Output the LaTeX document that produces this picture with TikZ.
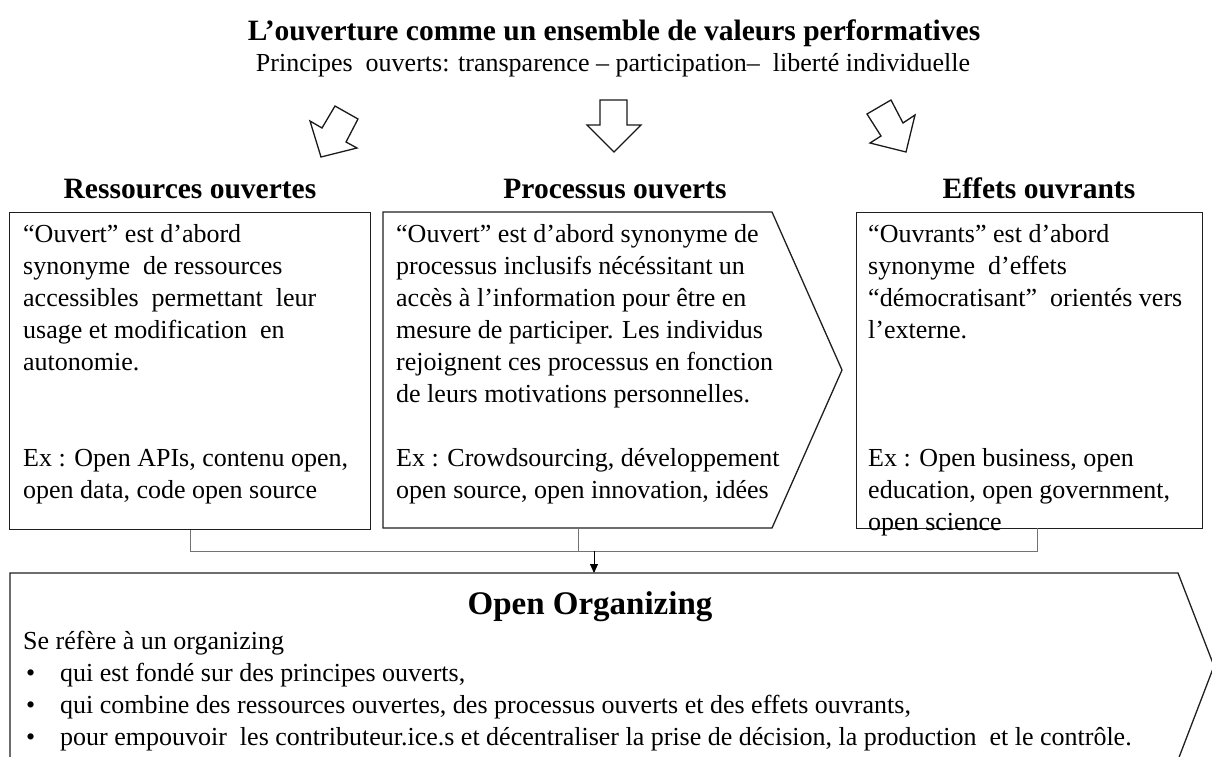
\documentclass[tikz,border=0pt]{standalone}
\usepackage{fontspec}
\setmainfont{Liberation Serif}
\usetikzlibrary{arrows.meta}
\begin{document}
\begin{tikzpicture}[x=1pt,y=-1pt,
  boxline/.style={draw=black!88, line width=1.3pt, line join=miter},
  conn/.style={draw=black!55, line width=1pt},
  arr/.style={draw=black, line width=1pt, -{Triangle[length=9pt,width=8pt]}},
  blockarrow/.style={draw=black!90, line width=1.3pt, fill=white, line join=miter},
  txt/.style={anchor=base west, inner sep=0pt, font=\fontsize{26}{32}\selectfont},
  head/.style={anchor=base, inner sep=0pt, font=\fontsize{29.5}{34}\selectfont\bfseries},
]
\useasboundingbox (0,0) rectangle (1212,756);
\clip (0,0) rectangle (1212,756);

% title
\node[head] (title) at (614,40) {L’ouverture comme un ensemble de valeurs performatives};
\node[anchor=base, inner sep=0pt, font=\fontsize{26}{32}\selectfont] (sub) at (613,71)
  {Principes \ ouverts: transparence – participation– \ liberté individuelle};

% block arrows
\draw[blockarrow] (335,106) -- (358,119) -- (346,142) -- (357,148) -- (321,157) -- (310,121) -- (322,128) -- cycle;
\draw[blockarrow] (600,100) -- (627,100) -- (627,125) -- (641,125) -- (614,152) -- (587,125) -- (600,125) -- cycle;
\draw[blockarrow] (867,114) -- (891,100) -- (903,123) -- (915,115) -- (906,152) -- (870,143) -- (881,136) -- cycle;

% headers
\node[head] (h1) at (190,198) {Ressources ouvertes};
\node[head] (h2) at (615,198) {Processus ouverts};
\node[head] (h3) at (1039,198) {Effets ouvrants};

% boxes
\node[boxline, anchor=north west, minimum width=361pt, minimum height=317pt, inner sep=0pt] (b1) at (9,212) {};
\draw[boxline] (383,212) coordinate (b2nw) -- (772,212) -- (842,370) coordinate (b2tip) -- (772,528) -- (383,528) -- cycle;
\coordinate (b2s) at (578,528);
\node[boxline, anchor=north west, minimum width=346pt, minimum height=316pt, inner sep=0pt] (b3) at (856,212) {};
\coordinate (b3s) at (1037,528);

% box texts
\node[txt] (t1) at (23,242) {\begin{tabular}[t]{@{}l@{}}“Ouvert” est d’abord\\ synonyme \ de ressources\\ accessibles \ permettant \ leur\\ usage et modification \ en\\ autonomie.\\ \\ \\ Ex : Open APIs, contenu open,\\ open data, code open source\end{tabular}};
\node[txt] (t2) at (396,242) {\begin{tabular}[t]{@{}l@{}}“Ouvert” est d’abord synonyme de\\ processus inclusifs nécéssitant un\\ accès à l’information pour être en\\ mesure de participer. Les individus\\ rejoignent ces processus en fonction\\ de leurs motivations personnelles.\\ \\ Ex : Crowdsourcing, développement\\ open source, open innovation, idées\end{tabular}};
\node[txt] (t3) at (868,242) {\begin{tabular}[t]{@{}l@{}}“Ouvrants” est d’abord\\ synonyme \ d’effets\\ “démocratisant” \ orientés vers\\ l’externe.\\ \\ \\ \\ Ex : Open business, open\\ education, open government,\\ open science\end{tabular}};

% bottom box
\draw[boxline] (10,760) -- (10,573) coordinate (b4nw) -- (1178,573) -- (1214,666) coordinate (b4tip) -- (1178,760);
\coordinate (b4n) at (594,573);
\node[anchor=base, inner sep=0pt, font=\fontsize{33}{38}\selectfont\bfseries] (h4) at (590,614) {Open Organizing};
\node[txt] (t4) at (23,649) {\begin{tabular}[t]{@{}l@{}}Se réfère à un organizing\\
\makebox[37pt][l]{\hspace{3pt}•}qui est fondé sur des principes ouverts,\\
\makebox[37pt][l]{\hspace{3pt}•}qui combine des ressources ouvertes, des processus ouverts et des effets ouvrants,\\
\makebox[37pt][l]{\hspace{3pt}•}pour empouvoir \ les contributeur.ice.s et décentraliser la prise de décision, la production \ et le contrôle.\end{tabular}};

% connectors
\coordinate (jn) at (594,551);
\draw[conn] (b1.south) -- (b1.south |- jn) -| (b3s);
\draw[conn] (b2s) -- (b2s |- jn);
\draw[arr] (jn) -- (b4n);
\end{tikzpicture}
\end{document}
